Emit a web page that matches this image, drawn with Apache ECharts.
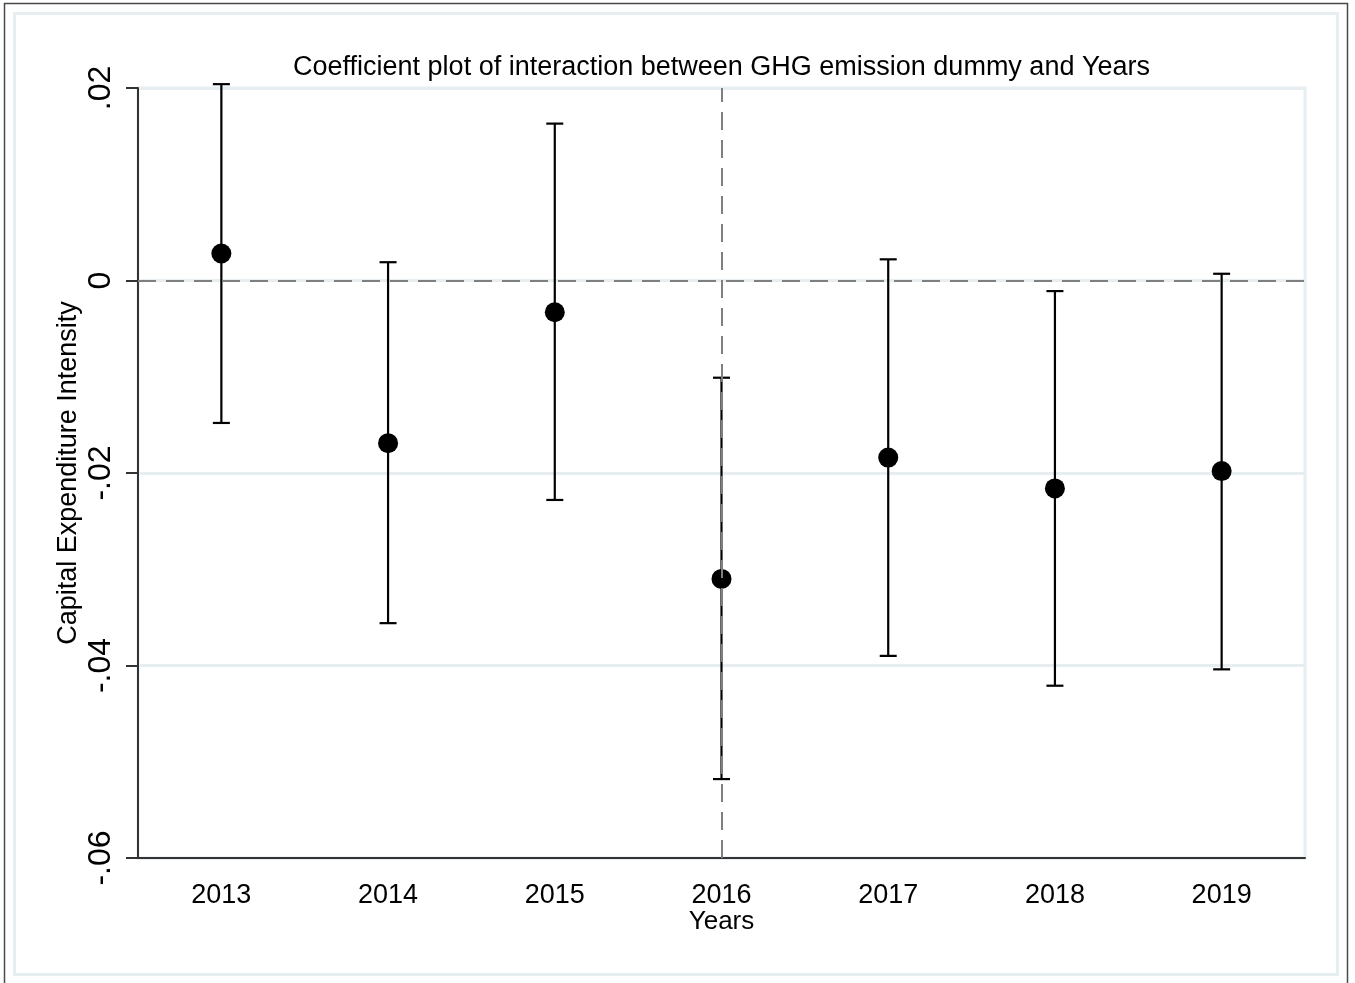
<!DOCTYPE html>
<html>
<head>
<meta charset="utf-8">
<script src="https://cdn.jsdelivr.net/npm/echarts@6/dist/echarts.min.js"></script>
<style>
  html, body { margin: 0; padding: 0; background: #ffffff; }
  #chart { width: 1355px; height: 983px; }
</style>
</head>
<body>
<div id="chart"></div>
<script>
// Estimated coefficients and 95% confidence bounds per year
const years = ['2013', '2014', '2015', '2016', '2017', '2018', '2019'];
const coef  = [0.0028, -0.0169, -0.0033, -0.0310, -0.0184, -0.0216, -0.0198];
const upper = [0.0204, 0.0019, 0.0163, -0.0101, 0.0022, -0.0011, 0.0007];
const lower = [-0.0148, -0.0356, -0.0228, -0.0518, -0.0390, -0.0421, -0.0404];
const yTicks = [-0.06, -0.04, -0.02, 0, 0.02];
const refYear = '2016';

const FONT = '"Liberation Sans", Arial, sans-serif';

// Stata-style tick text: ".02", "0", "-.04"
function tickText(v) {
  if (Math.abs(v) < 1e-9) return '0';
  const s = Math.abs(v).toFixed(2).replace(/^0/, '');
  return (v < 0 ? '-' : '') + s;
}

const chart = echarts.init(document.getElementById('chart'), null, { renderer: 'canvas' });

const intervals = years.map((y, i) => [i, lower[i], upper[i]]);

chart.setOption({
  animation: false,
  backgroundColor: '#ffffff',
  title: {
    text: 'Coefficient plot of interaction between GHG emission dummy and Years',
    left: 716.5,
    top: 49,
    textAlign: 'center',
    textStyle: { fontFamily: FONT, fontSize: 27, fontWeight: 'normal', color: '#000' }
  },
  graphic: [
    { type: 'rect', shape: { x: 4.5, y: 3.5, width: 1343, height: 1000 },
      style: { fill: 'none', stroke: '#4a4a4a', lineWidth: 1.5 }, silent: true },
    { type: 'rect', shape: { x: 14.5, y: 13.5, width: 1323, height: 961 },
      style: { fill: 'none', stroke: '#e6eef1', lineWidth: 3 }, silent: true }
  ],
  grid: {
    left: 138, right: 50, top: 88, bottom: 125,
    show: true, borderColor: '#e6eef1', borderWidth: 3, backgroundColor: '#ffffff'
  },
  xAxis: {
    type: 'category',
    data: years,
    boundaryGap: true,
    name: 'Years',
    nameLocation: 'middle',
    nameGap: 51,
    nameMoveOverlap: false,
    nameTextStyle: { fontFamily: FONT, fontSize: 26, color: '#000' },
    axisLine: { onZero: false, lineStyle: { color: '#333', width: 2 } },
    axisTick: { alignWithLabel: true, length: 11, lineStyle: { color: '#333', width: 2 } },
    axisLabel: { fontFamily: FONT, fontSize: 27, color: '#000', margin: 24 },
    splitLine: { show: false }
  },
  yAxis: {
    type: 'value',
    min: yTicks[0], max: yTicks[yTicks.length - 1], interval: 0.02,
    name: 'Capital Expenditure Intensity',
    nameLocation: 'middle',
    nameGap: 56,
    nameMoveOverlap: false,
    nameRotate: 90,
    nameTextStyle: { fontFamily: FONT, fontSize: 27, color: '#000' },
    axisLine: { show: true, lineStyle: { color: '#333', width: 2 } },
    axisTick: { show: true, length: 12, lineStyle: { color: '#333', width: 2 } },
    axisLabel: {
      fontFamily: FONT, fontSize: 32, color: '#000', rotate: 90, margin: 21,
      formatter: v => tickText(v)
    },
    splitLine: { show: true, lineStyle: { color: '#e6eef1', width: 3 } }
  },
  series: [
    {
      type: 'custom',
      name: 'CI',
      data: intervals,
      encode: { x: 0, y: [1, 2] },
      z: 3,
      renderItem: function (params, api) {
        const x = api.value(0);
        const lo = api.coord([x, api.value(1)]);
        const hi = api.coord([x, api.value(2)]);
        const half = 8.5;
        const style = { stroke: '#000', lineWidth: 2.2 };
        return {
          type: 'group',
          children: [
            { type: 'line', shape: { x1: lo[0], y1: lo[1], x2: hi[0], y2: hi[1] }, style },
            { type: 'line', shape: { x1: lo[0] - half, y1: lo[1], x2: lo[0] + half, y2: lo[1] }, style },
            { type: 'line', shape: { x1: hi[0] - half, y1: hi[1], x2: hi[0] + half, y2: hi[1] }, style }
          ]
        };
      }
    },
    {
      type: 'scatter',
      name: 'Coefficient',
      data: coef,
      symbol: 'circle',
      symbolSize: 20,
      itemStyle: { color: '#000', opacity: 1 },
      z: 4,
      markLine: {
        silent: true,
        symbol: ['none', 'none'],
        label: { show: false },
        lineStyle: { color: '#7f7f7f', width: 2, type: [18, 10], opacity: 1 },
        data: [
          { yAxis: 0 },
          { xAxis: refYear }
        ]
      }
    }
  ]
});
</script>
</body>
</html>
